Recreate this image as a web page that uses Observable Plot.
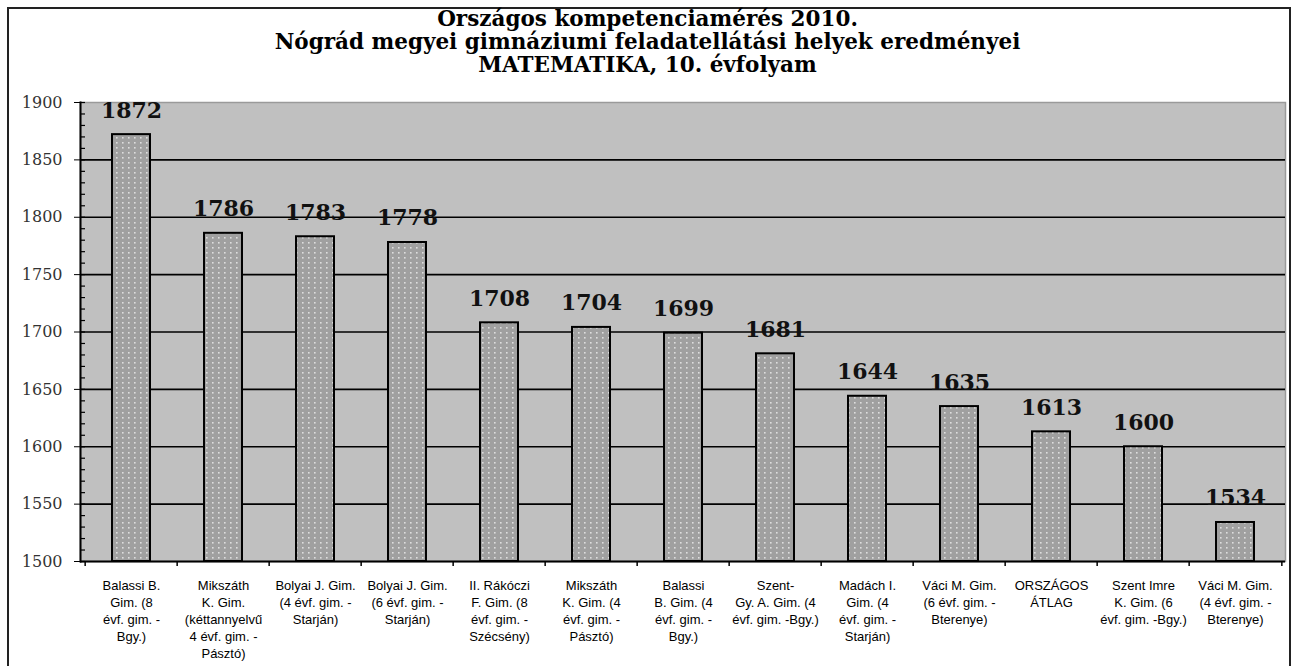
<!DOCTYPE html>
<html>
<head>
<meta charset="utf-8">
<script src="https://cdn.jsdelivr.net/npm/d3@7"></script>
<script src="https://cdn.jsdelivr.net/npm/@observablehq/plot@0.6"></script>
<style>
  html, body { margin: 0; padding: 0; background: #fff; width: 1295px; height: 666px; overflow: hidden; }
  #frame { position: absolute; left: 7px; top: 7px; width: 1284px; height: 700px; border: 2px solid #222; box-sizing: border-box; }
  #title { position: absolute; left: 0; top: 7px; width: 1295px; text-align: center; font-family: "DejaVu Serif", serif; font-weight: bold; font-size: 21.5px; line-height: 23px; color: #000; }
  #chart { position: absolute; left: 0; top: 80px; }
</style>
</head>
<body>
<div id="frame"></div>
<div id="title">Országos kompetenciamérés 2010.<br>Nógrád megyei gimnáziumi feladatellátási helyek eredményei<br>MATEMATIKA, 10. évfolyam</div>
<div id="chart"></div>
<script>
const categories = [
  "Balassi B.\nGim. (8\névf. gim. -\nBgy.)",
  "Mikszáth\nK. Gim.\n(kéttannyelvű\n4 évf. gim. -\nPásztó)",
  "Bolyai J. Gim.\n(4 évf. gim. -\nStarján)",
  "Bolyai J. Gim.\n(6 évf. gim. -\nStarján)",
  "II. Rákóczi\nF. Gim. (8\névf. gim. -\nSzécsény)",
  "Mikszáth\nK. Gim. (4\névf. gim. -\nPásztó)",
  "Balassi\nB. Gim. (4\névf. gim. -\nBgy.)",
  "Szent-\nGy. A. Gim. (4\névf. gim. -Bgy.)",
  "Madách I.\nGim. (4\névf. gim. -\nStarján)",
  "Váci M. Gim.\n(6 évf. gim. -\nBterenye)",
  "ORSZÁGOS\nÁTLAG",
  "Szent Imre\nK. Gim. (6\névf. gim. -Bgy.)",
  "Váci M. Gim.\n(4 évf. gim. -\nBterenye)"
];
const values = [1872, 1786, 1783, 1778, 1708, 1704, 1699, 1681, 1644, 1635, 1613, 1600, 1534];
const yTicks = [1500, 1550, 1600, 1650, 1700, 1750, 1800, 1850, 1900];
const yMinorTicks = d3.range(1500, 1901, 10);
const gridValues = [1550, 1600, 1650, 1700, 1750, 1800, 1850];

const data = categories.map((c, i) => ({cat: c, value: values[i]}));

const W = 1295, H = 586, mL = 80, mR = 10, mT = 22, mB = 105;
const step = (W - mL - mR) / categories.length;

const chart = Plot.plot({
  width: W,
  height: H,
  marginLeft: mL,
  marginRight: mR,
  marginTop: mT,
  marginBottom: mB,
  style: {background: "transparent", overflow: "visible"},
  x: {domain: categories, paddingInner: 0.59, paddingOuter: 0.295, label: null},
  y: {domain: [1500, 1900], label: null},
  marks: [
    Plot.frame({fill: "#c0c0c0", stroke: "#9a9a9a", strokeWidth: 1.5}),
    Plot.ruleY(gridValues, {stroke: "#000", strokeWidth: 1.6}),
    Plot.barY(data, {x: "cat", y1: 1500, y2: "value", fill: "url(#dots)", stroke: "#000", strokeWidth: 2}),
    Plot.text(data, {x: "cat", y: "value", text: d => String(d.value), lineAnchor: "bottom", dy: -17,
      fontFamily: "DejaVu Serif", fontWeight: "bold", fontSize: 22, fill: "#111"}),
    Plot.ruleY([1500], {stroke: "#000", strokeWidth: 2}),
    Plot.frame({anchor: "left", stroke: "#000", strokeWidth: 2}),
    Plot.ruleX(categories, {x: d => d, y1: 1500, y2: 1500, insetBottom: -5, dx: -step / 2, stroke: "#000", strokeWidth: 1.5}),
    Plot.ruleX([categories[categories.length - 1]], {x: d => d, y1: 1500, y2: 1500, insetBottom: -5, dx: step / 2, stroke: "#000", strokeWidth: 1.5}),
    Plot.axisY({ticks: yMinorTicks, tickSize: -5, tickFormat: () => "", label: null, stroke: "#000", strokeWidth: 1.2}),
    Plot.axisY({ticks: yTicks, tickSize: 6, tickPadding: 12, label: null, tickFormat: d => String(d),
      fontFamily: "DejaVu Serif", fontSize: 16, fill: "#333", stroke: "#000"}),
    Plot.axisX({tickSize: 0, tickPadding: 16, label: null, fontFamily: "Liberation Sans", fontSize: 13,
      lineHeight: 1.32, fill: "#000"})
  ]
});

const svg = d3.select(chart);
const defs = svg.insert("defs", ":first-child");
const pat = defs.append("pattern").attr("id", "dots").attr("patternUnits", "userSpaceOnUse")
  .attr("width", 6).attr("height", 5);
pat.append("rect").attr("width", 6).attr("height", 5).attr("fill", "#a0a0a0");
pat.append("rect").attr("x", 2).attr("y", 2).attr("width", 1.6).attr("height", 1.6).attr("fill", "#dedede");

document.getElementById("chart").appendChild(chart);
</script>
</body>
</html>
